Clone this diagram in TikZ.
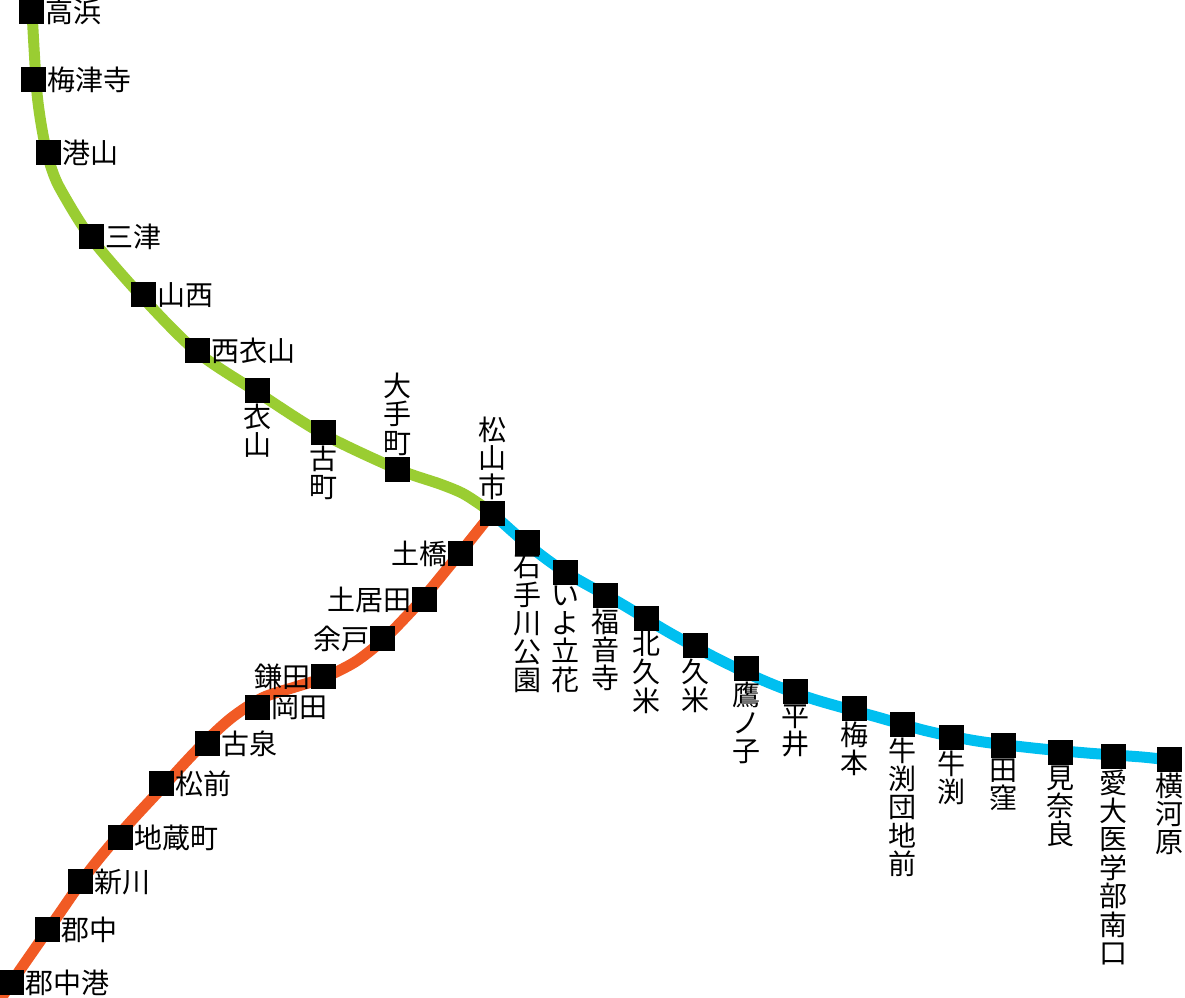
\documentclass[tikz,border=0pt]{standalone}
\usepackage{fontspec}
\setmainfont{Noto Sans CJK JP}
\definecolor{gline}{HTML}{9ACD32}
\definecolor{bline}{HTML}{00BFF0}
\definecolor{oline}{HTML}{F15A24}
\tikzset{
  st/.style={fill=black,draw=none,minimum size=25pt,inner sep=0pt,outer sep=0pt,rectangle},
  lbase/.style={inner sep=0pt,outer sep=0pt,font=\fontsize{28}{28.4}\selectfont,text=black},
  lr/.style={lbase,anchor=west,xshift=1.5pt,yshift=-1pt},
  ll/.style={lbase,anchor=east,xshift=0pt,yshift=-1pt},
  lv/.style={lbase,align=center,text width=28pt},
  lb/.style={lv,anchor=north,yshift=-1pt},
  la/.style={lv,anchor=south,yshift=1pt},
  rail/.style={line width=#1,line join=round},
}
\begin{document}
\begin{tikzpicture}[x=1pt,y=-1pt]
\useasboundingbox (0,0) rectangle (1185,997);
% station positions
\coordinate (g0) at (31,11);\coordinate (g1) at (33,79);\coordinate (g2) at (48,152);\coordinate (g3) at (91,236);\coordinate (g4) at (143,294);\coordinate (g5) at (197,350);\coordinate (g6) at (257,390);\coordinate (g7) at (323,432);\coordinate (g8) at (397,469);\coordinate (m) at (492,513);
\coordinate (b1) at (527,542);\coordinate (b2) at (565,572);\coordinate (b3) at (605,595);\coordinate (b4) at (646,618);\coordinate (b5) at (695,645);\coordinate (b6) at (746,668);\coordinate (b7) at (795,691);\coordinate (b8) at (854,708);\coordinate (b9) at (902,724);\coordinate (b10) at (951,737);\coordinate (b11) at (1003,745);\coordinate (b12) at (1060,752);\coordinate (b13) at (1113,756);\coordinate (b14) at (1169,759);
\coordinate (o1) at (460,553);\coordinate (o2) at (424,599);\coordinate (o3) at (382,638);\coordinate (o4) at (323,676);\coordinate (o5) at (257,707);\coordinate (o6) at (207,743);\coordinate (o7) at (161,783);\coordinate (o8) at (120,837);\coordinate (o9) at (80,881);\coordinate (o10) at (47,929);\coordinate (o11) at (11,982);
% way points of the lines
\foreach \n/\p in {ga/{32,11},gb/{37,93},gc/{44,140},gd/{52,170},ge/{62,192},gf/{91,238},gg/{143,298},gh/{197,352},gi/{257,392},gj/{323,434},gk/{397,469},gl/{440,484},gm/{462,493},gn/{478,503},
 ba/{527,544},bb/{565,572},bc/{620,603},bd/{670,633},be/{720,660},bf/{767,682},bg/{813,699},bh/{877,717},bi/{927,731},bj/{977,741},bk/{1033,748},bl/{1087,753},bm/{1142,757},bn/{1169,760},
 oa/{460,553},ob/{424,597},oc/{403,620},od/{382,641},oe/{355,662},of/{323,678},og/{295,687},oh/{262,698},oj/{230,719},ok/{197,750},ol/{160,790},om/{125,828},on/{90,870},oo/{57,917},op/{20,970},oq/{0,1000}}
  {\coordinate (\n) at (\p);}
\draw[gline,rail=11pt] plot[smooth,tension=0.5] coordinates {(ga)(gb)(gc)(gd)(ge)(gf)(gg)(gh)(gi)(gj)(gk)(gl)(gm)(gn)(m)};
\draw[bline,rail=11pt] plot[smooth,tension=0.5] coordinates {(m)(ba)(bb)(bc)(bd)(be)(bf)(bg)(bh)(bi)(bj)(bk)(bl)(bm)(bn)};
\draw[oline,rail=11pt] plot[smooth,tension=0.5] coordinates {(m)(oa)(ob)(oc)(od)(oe)(of)(og)(oh)(oj)(ok)(ol)(om)(on)(oo)(op)(oq)};
\foreach \c in {g0,g1,g2,g3,g4,g5,g6,g7,g8,m,b1,b2,b3,b4,b5,b6,b7,b8,b9,b10,b11,b12,b13,b14,o1,o2,o3,o4,o5,o6,o7,o8,o9,o10,o11}
  \node[st] (s\c) at (\c) {};
% green
\node[lr] (t0) at (sg0.east) {高浜};
\node[lr] (t1) at (sg1.east) {梅津寺};
\node[lr] (t2) at (sg2.east) {港山};
\node[lr] (t3) at (sg3.east) {三津};
\node[lr] (t4) at (sg4.east) {山西};
\node[lr] (t5) at (sg5.east) {西衣山};
\node[lb] (t6) at (sg6.south) {衣\\山};
\node[lb] (t7) at (sg7.south) {古\\町};
\node[la] (t8) at (sg8.north) {大\\手\\町};
\node[la] (t9) at (sm.north) {松\\山\\市};
% blue
\node[lb] (u1) at (sb1.south) {石\\手\\川\\公\\園};
\node[lb] (u2) at (sb2.south) {い\\よ\\立\\花};
\node[lb] (u3) at (sb3.south) {福\\音\\寺};
\node[lb] (u4) at (sb4.south) {北\\久\\米};
\node[lb] (u5) at (sb5.south) {久\\米};
\node[lb] (u6) at (sb6.south) {鷹\\ノ\\子};
\node[lb] (u7) at (sb7.south) {平\\井};
\node[lb] (u8) at (sb8.south) {梅\\本};
\node[lb] (u9) at (sb9.south) {牛\\渕\\団\\地\\前};
\node[lb] (u10) at (sb10.south) {牛\\渕};
\node[lb] (u11) at (sb11.south) {田\\窪};
\node[lb] (u12) at (sb12.south) {見\\奈\\良};
\node[lb] (u13) at (sb13.south) {愛\\大\\医\\学\\部\\南\\口};
\node[lb] (u14) at (sb14.south) {横\\河\\原};
% orange
\node[ll] (v1) at (so1.west) {土橋};
\node[ll] (v2) at (so2.west) {土居田};
\node[ll] (v3) at (so3.west) {余戸};
\node[ll] (v4) at (so4.west) {鎌田};
\node[lr] (v5) at (so5.east) {岡田};
\node[lr] (v6) at (so6.east) {古泉};
\node[lr] (v7) at (so7.east) {松前};
\node[lr] (v8) at (so8.east) {地蔵町};
\node[lr] (v9) at (so9.east) {新川};
\node[lr] (v10) at (so10.east) {郡中};
\node[lr] (v11) at (so11.east) {郡中港};
\end{tikzpicture}
\end{document}
